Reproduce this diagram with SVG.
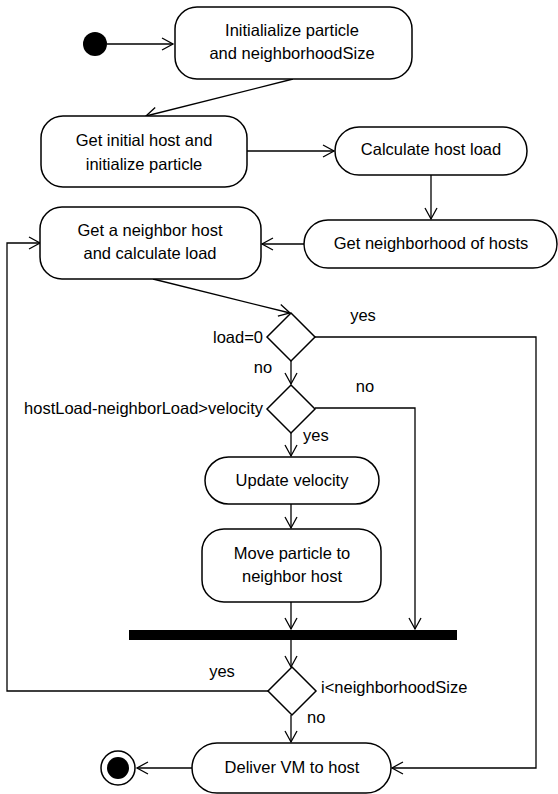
<svg xmlns="http://www.w3.org/2000/svg" width="558" height="794" viewBox="0 0 558 794">
<style>
.n{fill:#fff;stroke:#000;stroke-width:1.5}
.t{font-family:"Liberation Sans",Arial,sans-serif;font-size:16.5px;fill:#000}
.c{text-anchor:middle}
.e{text-anchor:end}
.l{fill:none;stroke:#000;stroke-width:1.3}
</style>
<defs>
<marker id="a" markerUnits="userSpaceOnUse" markerWidth="14" markerHeight="14" refX="11" refY="6" orient="auto" overflow="visible">
<path d="M0,0 L11,6 L0,12" fill="none" stroke="#000" stroke-width="1.3"/>
</marker>
</defs>
<rect width="558" height="794" fill="#fff"/>
<g id="connectors">
<line class="l" x1="107" y1="44" x2="173" y2="44" marker-end="url(#a)"/>
<line class="l" x1="293" y1="79" x2="146" y2="116" marker-end="url(#a)"/>
<line class="l" x1="247" y1="151" x2="334" y2="151" marker-end="url(#a)"/>
<line class="l" x1="431" y1="175" x2="431" y2="219" marker-end="url(#a)"/>
<line class="l" x1="304" y1="244" x2="262" y2="244" marker-end="url(#a)"/>
<line class="l" x1="153" y1="279" x2="290" y2="313" marker-end="url(#a)"/>
<polyline class="l" points="315,337 536,337 536,768 392,768" marker-end="url(#a)"/>
<line class="l" x1="291" y1="361" x2="291" y2="384" marker-end="url(#a)"/>
<polyline class="l" points="315,408 415,408 415,629" marker-end="url(#a)"/>
<line class="l" x1="291" y1="433" x2="291" y2="456" marker-end="url(#a)"/>
<line class="l" x1="291" y1="504" x2="291" y2="528" marker-end="url(#a)"/>
<line class="l" x1="291" y1="602" x2="291" y2="629" marker-end="url(#a)"/>
<line class="l" x1="291" y1="640" x2="291" y2="667" marker-end="url(#a)"/>
<polyline class="l" points="268,691 7,691 7,243 40,243" marker-end="url(#a)"/>
<line class="l" x1="291" y1="715" x2="291" y2="742" marker-end="url(#a)"/>
<line class="l" x1="192" y1="768" x2="137" y2="768" marker-end="url(#a)"/>
</g>
<g id="start"><circle cx="95" cy="44" r="12" fill="#000"/></g>
<g id="n1"><rect class="n" x="175" y="7" width="237" height="72" rx="22"/>
<text class="t c" x="292" y="36">Initialialize particle</text>
<text class="t c" x="292" y="59">and neighborhoodSize</text></g>
<g id="n2"><rect class="n" x="41" y="116" width="206" height="71" rx="22"/>
<text class="t c" x="144" y="146">Get initial host and</text>
<text class="t c" x="144" y="170">initialize particle</text></g>
<g id="n3"><rect class="n" x="335" y="127" width="192" height="48" rx="24"/>
<text class="t c" x="431" y="155">Calculate host load</text></g>
<g id="n4"><rect class="n" x="304" y="220" width="253" height="48" rx="24"/>
<text class="t c" x="431" y="249">Get neighborhood of hosts</text></g>
<g id="n5"><rect class="n" x="40" y="207" width="221" height="72" rx="22"/>
<text class="t c" x="150" y="236">Get a neighbor host</text>
<text class="t c" x="150" y="259">and calculate load</text></g>
<g id="d1"><polygon class="n" points="291,313 315,337 291,361 267,337"/>
<text class="t e" x="263" y="343">load=0</text>
<text class="t c" x="363" y="321">yes</text>
<text class="t c" x="263" y="373">no</text></g>
<g id="d2"><polygon class="n" points="291,385 315,409 291,433 267,409"/>
<text class="t e" x="263" y="414">hostLoad-neighborLoad&gt;velocity</text>
<text class="t c" x="365" y="392">no</text>
<text class="t" x="303" y="441">yes</text></g>
<g id="n6"><rect class="n" x="205" y="457" width="174" height="47" rx="23.5"/>
<text class="t c" x="292" y="486">Update velocity</text></g>
<g id="n7"><rect class="n" x="202" y="529" width="179" height="73" rx="22"/>
<text class="t c" x="292" y="559">Move particle to</text>
<text class="t c" x="292" y="582">neighbor host</text></g>
<g id="bar"><rect x="129" y="630" width="328" height="10" fill="#000"/></g>
<g id="d3"><polygon class="n" points="292,667 316,691 292,715 268,691"/>
<text class="t" x="321" y="693">i&lt;neighborhoodSize</text>
<text class="t c" x="222" y="677">yes</text>
<text class="t" x="307" y="723">no</text></g>
<g id="n8"><rect class="n" x="192" y="743" width="199" height="50" rx="25"/>
<text class="t c" x="292" y="773">Deliver VM to host</text></g>
<g id="end"><circle cx="118" cy="768" r="17" fill="#fff" stroke="#000" stroke-width="1.5"/><circle cx="118" cy="768" r="11" fill="#000"/></g>
</svg>
